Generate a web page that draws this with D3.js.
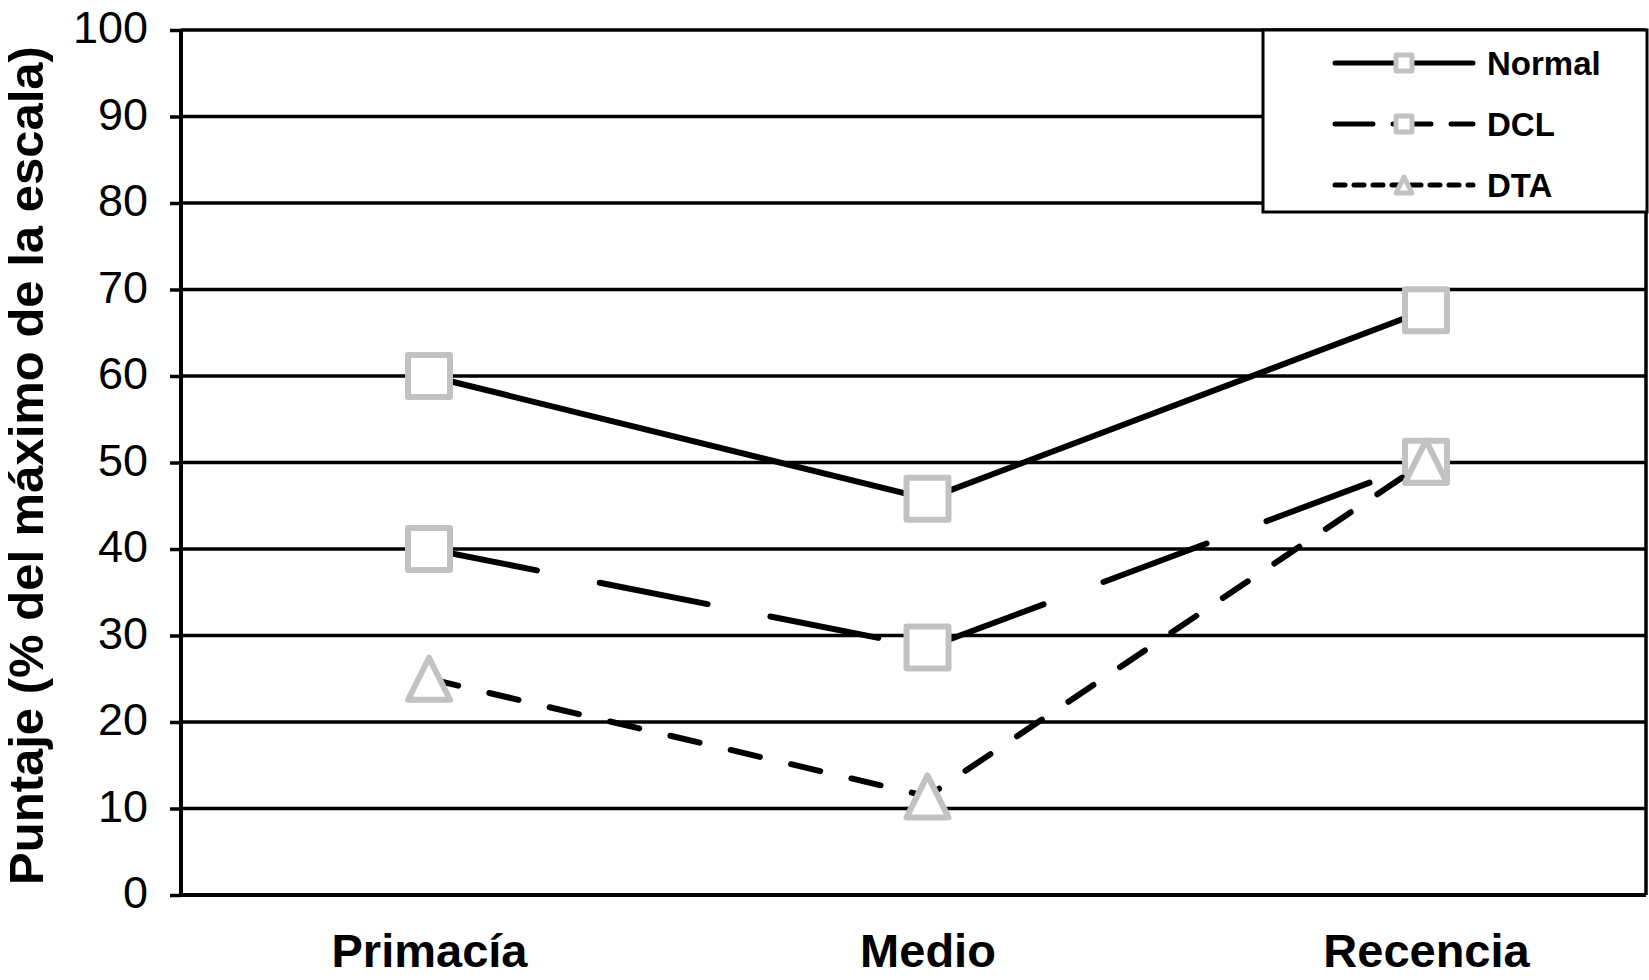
<!DOCTYPE html>
<html>
<head>
<meta charset="utf-8">
<script src="https://cdnjs.cloudflare.com/ajax/libs/d3/7.8.5/d3.min.js"></script>
<style>
  html, body { margin: 0; padding: 0; background: #fff; }
  svg { display: block; font-family: "Liberation Sans", Arial, Helvetica, sans-serif; }
</style>
</head>
<body>
<svg id="chart" width="1649" height="980"></svg>
<script>
// categories and series values
var categories = ["Primacía", "Medio", "Recencia"];
var normalValues = [60, 45.8, 67.6];
var dclValues = [40, 28.6, 50.1];
var dtaValues = [25, 11.4, 50.1];
var seriesNames = ["Normal", "DCL", "DTA"];
var yTicks = [0, 10, 20, 30, 40, 50, 60, 70, 80, 90, 100];
var yTitle = "Puntaje (% del máximo de la escala)";

var svg = d3.select("#chart"),
    width = +svg.attr("width"),
    height = +svg.attr("height");

var plot = { left: 181, right: 1646, top: 30, bottom: 895 };

var x = d3.scalePoint()
    .domain(categories)
    .range([429, 1426]);

var y = d3.scaleLinear()
    .domain([0, 100])
    .range([plot.bottom, plot.top]);

// triangle as tall as it is wide, box centred on the point (like the Excel marker)
var boxTriangle = {
  draw: function (context, size) {
    var h = Math.sqrt(size) / 2;
    context.moveTo(0, -h);
    context.lineTo(h, h);
    context.lineTo(-h, h);
    context.closePath();
  }
};

var series = [
  { name: seriesNames[0], values: normalValues, dash: null, legendDash: null, symbol: d3.symbolSquare },
  { name: seriesNames[1], values: dclValues, dash: "110,64", legendDash: "38,20", symbol: d3.symbolSquare },
  { name: seriesNames[2], values: dtaValues, dash: "30,32", legendDash: "10,9", symbol: boxTriangle }
];

var markerGrey = "#c1c3c3";

// gridlines
svg.append("g")
  .selectAll("line")
  .data(yTicks.filter(function (d) { return d > 0; }))
  .enter().append("line")
    .attr("x1", plot.left)
    .attr("x2", plot.right)
    .attr("y1", function (d) { return y(d); })
    .attr("y2", function (d) { return y(d); })
    .attr("stroke", "#000")
    .attr("stroke-width", 3.5);

// right border
svg.append("line")
    .attr("x1", plot.right).attr("x2", plot.right)
    .attr("y1", plot.top).attr("y2", plot.bottom)
    .attr("stroke", "#000").attr("stroke-width", 3.5);

// y axis
var yAxis = d3.axisLeft(y)
    .tickValues(yTicks)
    .tickSize(11)
    .tickPadding(22)
    .tickFormat(d3.format("d"));

var gy = svg.append("g")
    .attr("transform", "translate(" + plot.left + ",0)")
    .call(yAxis);
gy.select(".domain").attr("stroke-width", 4).attr("d", "M0," + plot.top + "V" + plot.bottom);
gy.selectAll(".tick line").attr("stroke-width", 3.5);
gy.selectAll(".tick text")
    .attr("font-size", 45)
    .attr("font-family", "Liberation Sans, Arial, sans-serif")
    .attr("fill", "#000")
    .attr("dy", "0.28em");

// x axis baseline
var xAxis = d3.axisBottom(x).tickSize(0).tickPadding(0);
var gx = svg.append("g")
    .attr("transform", "translate(0," + plot.bottom + ")")
    .call(xAxis);
gx.select(".domain").attr("stroke-width", 4).attr("d", "M" + plot.left + ",0H" + plot.right);
gx.selectAll(".tick text")
    .attr("font-size", 47)
    .attr("font-weight", "bold")
    .attr("font-family", "Liberation Sans, Arial, sans-serif")
    .attr("fill", "#000")
    .attr("dy", null)
    .attr("y", 72);

// y title
svg.append("text")
    .attr("transform", "translate(43," + ((plot.top + plot.bottom) / 2 + 3) + ") rotate(-90)")
    .attr("text-anchor", "middle")
    .attr("font-size", 49)
    .attr("font-weight", "bold")
    .text(yTitle);

// lines and markers
var line = d3.line()
    .x(function (d, i) { return x(categories[i]); })
    .y(function (d) { return y(d); });

series.forEach(function (s) {
  var g = svg.append("g");
  g.append("path")
      .attr("d", line(s.values))
      .attr("fill", "none")
      .attr("stroke", "#000")
      .attr("stroke-width", 6)
      .attr("stroke-linecap", "round")
      .attr("stroke-dasharray", s.dash);

  g.selectAll("path.marker")
    .data(s.values)
    .enter().append("path")
      .attr("class", "marker")
      .attr("d", d3.symbol().type(s.symbol).size(1764))
      .attr("transform", function (d, i) {
        return "translate(" + x(categories[i]) + "," + y(d) + ")";
      })
      .attr("fill", "#fff")
      .attr("stroke", markerGrey)
      .attr("stroke-width", 6)
      .attr("stroke-linejoin", "round");
});

// legend
var legend = svg.append("g");
legend.append("rect")
    .attr("x", 1263).attr("y", 30)
    .attr("width", 384).attr("height", 182)
    .attr("fill", "#fff")
    .attr("stroke", "#000")
    .attr("stroke-width", 3);

var legendRows = d3.scalePoint().domain(seriesNames).range([63, 185]);

series.forEach(function (s) {
  var ly = legendRows(s.name);
  var row = legend.append("g").attr("transform", "translate(0," + ly + ")");
  row.append("line")
      .attr("x1", 1335).attr("x2", 1473)
      .attr("y1", 0).attr("y2", 0)
      .attr("stroke", "#000")
      .attr("stroke-width", 5)
      .attr("stroke-linecap", "round")
      .attr("stroke-dasharray", s.legendDash);
  row.append("path")
      .attr("d", d3.symbol().type(s.symbol).size(256))
      .attr("transform", "translate(1404,0)")
      .attr("fill", "#fff")
      .attr("stroke", markerGrey)
      .attr("stroke-width", 5)
      .attr("stroke-linejoin", "round");
  row.append("text")
      .attr("x", 1487)
      .attr("y", 12)
      .attr("font-size", 33)
      .attr("font-weight", "bold")
      .text(s.name);
});
</script>
</body>
</html>
